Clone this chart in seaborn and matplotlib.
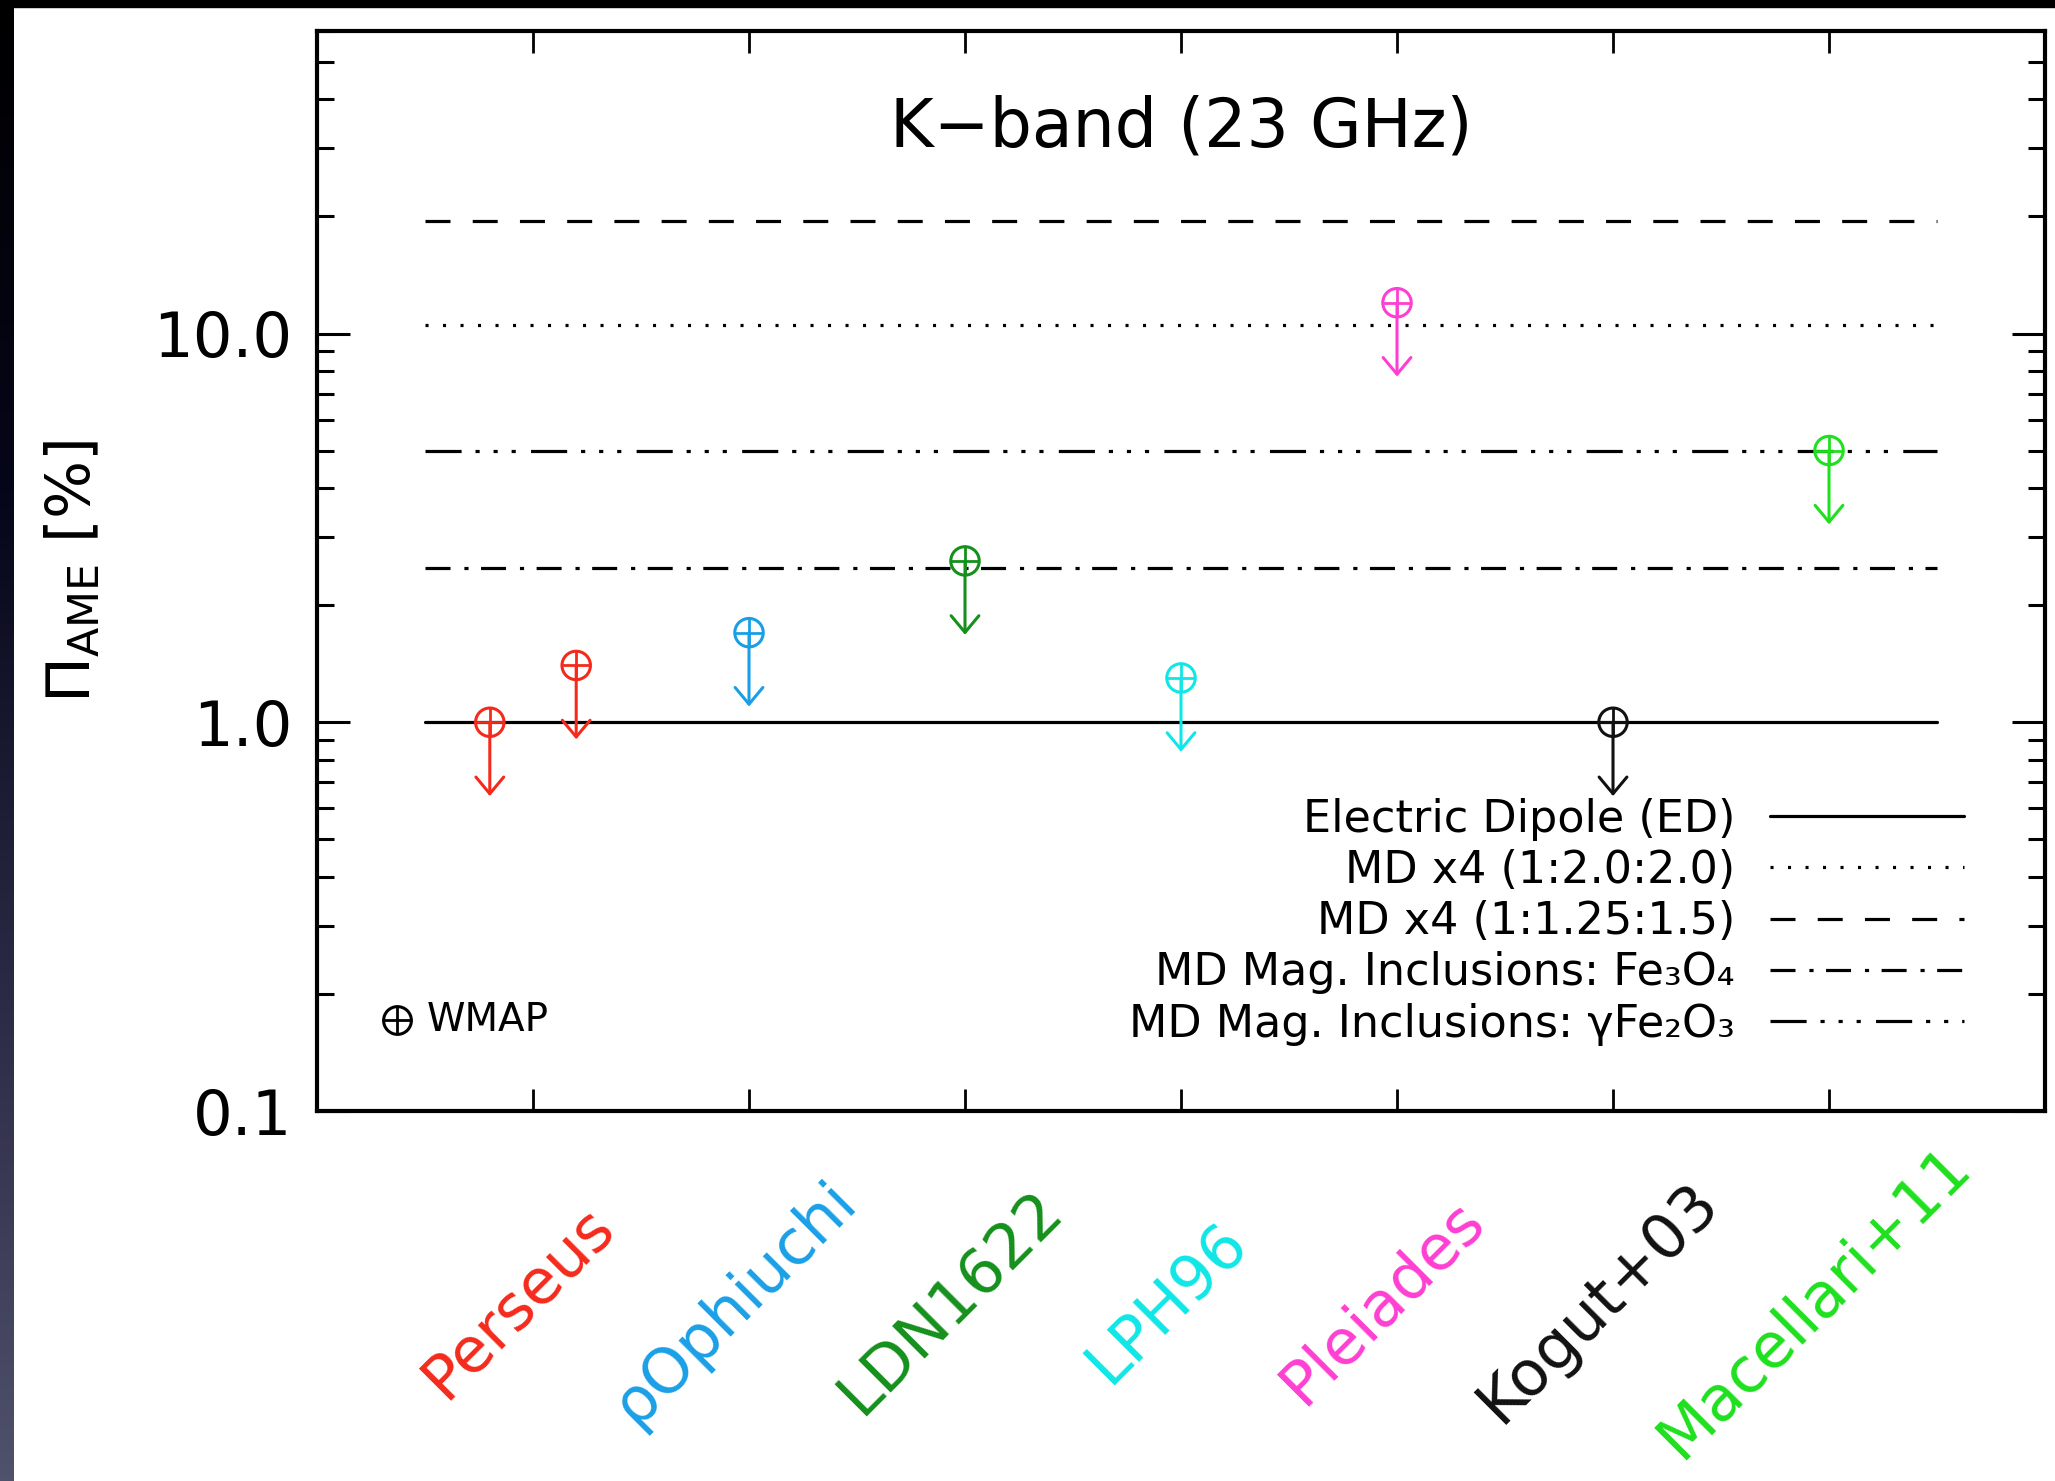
import numpy as np
import pandas as pd
import matplotlib
matplotlib.use("Agg")
import matplotlib.pyplot as plt
import seaborn as sns
from matplotlib.colors import LinearSegmentedColormap
from matplotlib.patches import Rectangle
from matplotlib.transforms import ScaledTranslation
from matplotlib.ticker import FixedLocator, FixedFormatter, LogLocator, NullFormatter

# --- upper limits on AME polarization fraction (K-band, 23 GHz) ---
sources = ["Perseus", "Perseus", "ρOphiuchi", "LDN1622", "LPH96",
           "Pleiades", "Kogut+03", "Macellari+11"]
positions = [0.8, 1.2, 2.0, 3.0, 4.0, 5.0, 6.0, 7.0]
upper_limits = [1.0, 1.4, 1.7, 2.6, 1.3, 12.0, 1.0, 5.0]

tick_positions = [1, 2, 3, 4, 5, 6, 7]
tick_labels = ["Perseus", "ρOphiuchi", "LDN1622", "LPH96",
               "Pleiades", "Kogut+03", "Macellari+11"]
source_colors = {
    "Perseus": "#f42a1c",
    "ρOphiuchi": "#1a9fe6",
    "LDN1622": "#15901c",
    "LPH96": "#10e6e6",
    "Pleiades": "#ff3fd2",
    "Kogut+03": "#111111",
    "Macellari+11": "#1ee01e",
}

# --- model predictions (horizontal levels) ---
model_names = ["Electric Dipole (ED)", "MD x4 (1:2.0:2.0)", "MD x4 (1:1.25:1.5)",
               "MD Mag. Inclusions: Fe₃O₄", "MD Mag. Inclusions: γFe₂O₃"]
model_levels = [1.0, 10.5, 19.5, 2.5, 5.0]
model_x_range = [0.5, 7.5]
model_dashes = [
    (),                                            # solid
    (2.2, 10.4),                                   # dotted
    (18, 16),                                      # dashed
    (18, 10, 3, 9),                                # dash-dot
    (26, 10, 3, 10, 3, 10, 3, 11),                 # dash-dot-dot-dot
]

y_ticks = [0.1, 1.0, 10.0]
y_tick_labels = ["0.1", "1.0", "10.0"]

sns.set_theme(style="ticks")
plt.rcParams["font.family"] = ["DejaVu Sans"]
plt.rcParams["lines.scale_dashes"] = False
plt.rcParams["axes.linewidth"] = 3.0
for key in ["text.color", "axes.labelcolor", "xtick.color", "ytick.color",
            "axes.edgecolor"]:
    plt.rcParams[key] = "black"

fig = plt.figure(figsize=(20.55, 14.81), dpi=100, facecolor="white")

# dark slide border on the left and top
strip = fig.add_axes([0, 0, 14 / 2055, 1])
grad = np.linspace(0, 1, 256).reshape(-1, 1)
border_cmap = LinearSegmentedColormap.from_list(
    "border", ["#000000", "#06061a", "#2a2a44", "#50516a"])
strip.imshow(grad, aspect="auto", cmap=border_cmap, origin="upper")
strip.set_axis_off()
fig.patches.append(Rectangle((0, 1 - 7 / 1481), 1, 7 / 1481,
                             transform=fig.transFigure, color="black", zorder=5))

ax = fig.add_axes([0.15426, 0.24983, 0.84088, 0.72924])
ax.set_facecolor("white")
ax.set_yscale("log")
ax.set_xlim(0, 8)
ax.set_ylim(0.1, 60)

# model levels
model_lines = []
for name, level, dash in zip(model_names, model_levels, model_dashes):
    ls = "-" if len(dash) == 0 else (0, dash)
    sns.lineplot(x=model_x_range, y=[level, level], ax=ax, color="black",
                 linewidth=2.3, linestyle=ls, zorder=2)
    model_lines.append(ax.get_lines()[-1])

# WMAP upper limits: circle-plus markers with downward arrows
df = pd.DataFrame({"source": sources, "pos": positions, "limit": upper_limits})
sns.scatterplot(data=df, x="pos", y="limit", hue="source", palette=source_colors,
                marker="o", s=420, legend=False, ax=ax, zorder=4)
circles = ax.collections[-1]
circles.set_edgecolors(circles.get_facecolors())
circles.set_facecolors("none")
circles.set_linewidths(2.2)
sns.scatterplot(data=df, x="pos", y="limit", hue="source", palette=source_colors,
                marker="+", s=420, legend=False, ax=ax, zorder=4)
ax.collections[-1].set_linewidths(2.0)

arrow_dex = 0.19
for pos, lim, src in zip(positions, upper_limits, sources):
    ax.annotate("", xy=(pos, lim * 10 ** -arrow_dex), xytext=(pos, lim),
                arrowprops=dict(arrowstyle="->,head_width=0.5,head_length=0.6",
                                color=source_colors[src], lw=2.2,
                                shrinkA=0, shrinkB=0, mutation_scale=20),
                zorder=3)

# axes, ticks
ax.xaxis.set_major_locator(FixedLocator(tick_positions))
ax.set_xticklabels(tick_labels, rotation=45, ha="center", va="center",
                   fontsize=45)
ax.tick_params(axis="x", which="major", direction="in", length=16, width=2,
               top=True, bottom=True, pad=138, color="black")
ax.tick_params(axis="x", which="minor", bottom=False, top=False)
shift = ScaledTranslation(-14 / 100, 0, fig.dpi_scale_trans)
for lab, name in zip(ax.get_xticklabels(), tick_labels):
    lab.set_color(source_colors[name])
    lab.set_transform(lab.get_transform() + shift)

ax.yaxis.set_major_locator(FixedLocator(y_ticks))
ax.yaxis.set_major_formatter(FixedFormatter(y_tick_labels))
ax.yaxis.set_minor_locator(LogLocator(base=10, subs=np.arange(2, 10)))
ax.yaxis.set_minor_formatter(NullFormatter())
ax.tick_params(axis="y", which="major", direction="in", length=24, width=2.2,
               left=True, right=True, labelsize=45, pad=18, color="black",
               labelcolor="black")
ax.tick_params(axis="y", which="minor", direction="in", length=12, width=2.2,
               left=True, right=True, color="black")
for s in ax.spines.values():
    s.set_visible(True)
    s.set_color("black")
    s.set_linewidth(3)

ax.set_xlabel("")
ax.set_ylabel(r"$\Pi_{\rm AME}$ [%]", fontsize=44, color="black")
ax.yaxis.set_label_coords(-0.124, 0.5)

ax.text(0.5, 0.911, "K−band (23 GHz)", transform=ax.transAxes,
        ha="center", va="center", fontsize=48, color="black")

# instrument key
ax.plot([0.0463], [0.0843], transform=ax.transAxes, marker="o", ms=20,
        mfc="none", mec="black", mew=2.2, ls="none", clip_on=False)
ax.plot([0.0463], [0.0843], transform=ax.transAxes, marker="+", ms=20,
        mec="black", mew=2.0, ls="none", clip_on=False)
ax.text(0.0637, 0.0843, "WMAP", transform=ax.transAxes, ha="left",
        va="center", fontsize=28, color="black")

leg = ax.legend(model_lines, model_names, loc="lower right",
                bbox_to_anchor=(0.953, 0.0605), markerfirst=False, frameon=False,
                fontsize=32, handlelength=4.35, handletextpad=0.8,
                labelspacing=0.185, borderpad=0, borderaxespad=0)
for t in leg.get_texts():
    t.set_color("black")

fig.savefig("out.png", dpi=100, facecolor="white")
